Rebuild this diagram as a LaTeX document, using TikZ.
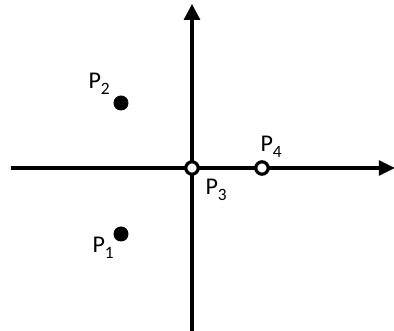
\documentclass[tikz,border=0pt]{standalone}
\usepackage{fontspec}
\setmainfont{Carlito}
\usetikzlibrary{arrows.meta}
\newcommand{\psub}[1]{\raisebox{-4.5pt}{\fontsize{13}{14}\selectfont #1}}

\begin{document}
\begin{tikzpicture}[x=0.75pt,y=-0.75pt,line width=2.4pt,
    lbl/.style={inner sep=0pt,anchor=base west,font=\fontsize{18}{20}\selectfont}]
    \useasboundingbox (0,0) rectangle (394,331);
    \coordinate (O) at (192,168);
    \coordinate (xl) at (11,168);
    \coordinate (xr) at (395,168);
    \coordinate (yb) at (192,331);
    \coordinate (yt) at (192,4);

    % axes
    \draw[-{Triangle[length=12pt,width=11pt]}] (xl) -- (xr);
    \draw[-{Triangle[length=12pt,width=12pt]}] (yb) -- (yt);

    % points
    \fill[black] (121,103) circle (7.5);
    \fill[black] (121,234) circle (7.5);
    \draw[fill=white] (O) circle (6.2);
    \draw[fill=white] (262,168) circle (6.2);

    \node[lbl] (p2) at (87,89) {P\psub{2}};
    \node[lbl] (p1) at (91,253) {P\psub{1}};
    \node[lbl] (p3) at (204,195) {P\psub{3}};
    \node[lbl] (p4) at (259,152) {P\psub{4}};
\end{tikzpicture}
\end{document}
